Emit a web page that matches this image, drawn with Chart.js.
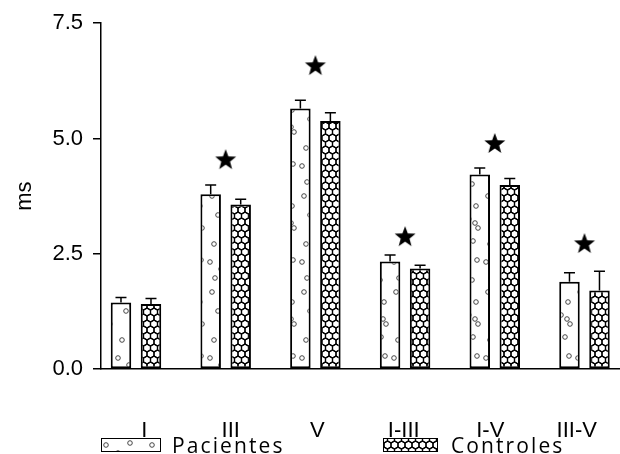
<!DOCTYPE html>
<html>
<head>
<meta charset="utf-8">
<script src="https://cdn.jsdelivr.net/npm/chart.js@4"></script>
<style>
  body { margin: 0; background: #fff; }
  #wrap { position: relative; width: 620px; height: 454px; }
  .lg { position: absolute; top: 431px; font: 21px "Open Sans", sans-serif; letter-spacing: 2.1px; color: #000; }
  .sw { position: absolute; top: 438px; height: 12px; border: 1px solid #000; background-color: #fff; }
</style>
</head>
<body>
<div id="wrap">
  <canvas id="c" width="620" height="454"></canvas>
  <div class="sw" id="sw1" style="left:101px;width:58px"></div>
  <div class="lg" style="left:172px">Pacientes</div>
  <div class="sw" id="sw2" style="left:383px;width:53px"></div>
  <div class="lg" style="left:451px">Controles</div>
</div>
<script>
const categories = ['I', 'III', 'V', 'I-III', 'I-V', 'III-V'];
const pacientes = [1.44, 3.79, 5.65, 2.33, 4.22, 1.89];
const pacientesErr = [0.11, 0.20, 0.18, 0.14, 0.14, 0.20];
const controles = [1.41, 3.57, 5.38, 2.18, 3.99, 1.70];
const controlesErr = [0.12, 0.11, 0.18, 0.07, 0.14, 0.42];
const stars = [null, 4.53, 6.57, 2.86, 4.88, 2.71];
const yTicks = [0, 2.5, 5, 7.5];

// scattered circles tile
function dotsTile() {
    const c = document.createElement('canvas');
    c.width = 46; c.height = 96;
    const g = c.getContext('2d');
    g.fillStyle = '#fff'; g.fillRect(0, 0, 46, 96);
    g.strokeStyle = '#333'; g.lineWidth = 0.9;
    [[4,6],[16,14],[9,27],[18,36],[5,42],[13,49],[6,63],[17,68],[15,31],[3,80],[12,88],
     [28,4],[40,18],[34,23],[44,40],[30,52],[41,58],[26,70],[37,77],[43,91],[31,86]].forEach(p => {
        g.beginPath(); g.arc(p[0], p[1], 2.3, 0, Math.PI * 2); g.stroke();
    });
    return c;
}

// honeycomb tile
function hexTile() {
    const c = document.createElement('canvas');
    c.width = 7; c.height = 12;
    const g = c.getContext('2d');
    g.fillStyle = '#fff'; g.fillRect(0, 0, 7, 12);
    g.strokeStyle = '#000'; g.lineWidth = 1.2;
    const r = 4.04;
    for (let j = -1; j <= 3; j++) {
        for (let i = -1; i <= 2; i++) {
            const cx = i * 7 + (j % 2 ? 3.5 : 0), cy = j * 6;
            g.beginPath();
            for (let k = 0; k < 6; k++) {
                const a = Math.PI / 6 + k * Math.PI / 3;
                const x = cx + r * Math.cos(a), y = cy + r * Math.sin(a);
                k ? g.lineTo(x, y) : g.moveTo(x, y);
            }
            g.closePath(); g.stroke();
        }
    }
    return c;
}

function starImg(r) {
    const c = document.createElement('canvas');
    c.width = c.height = 2 * r + 2;
    const g = c.getContext('2d');
    g.fillStyle = '#000';
    g.beginPath();
    for (let k = 0; k < 10; k++) {
        const rr = k % 2 ? r * 0.42 : r;
        const a = -Math.PI / 2 + k * Math.PI / 5;
        const x = r + 1 + rr * Math.cos(a), y = r + 1 + rr * Math.sin(a);
        k ? g.lineTo(x, y) : g.moveTo(x, y);
    }
    g.closePath(); g.fill();
    return c;
}

const dt = dotsTile(), ht = hexTile();
const ctx = document.getElementById('c').getContext('2d');
const dotsPat = ctx.createPattern(dt, 'repeat');
const hexPat = ctx.createPattern(ht, 'repeat');
document.getElementById('sw1').style.backgroundImage = 'url(' + dt.toDataURL() + ')';
document.getElementById('sw2').style.backgroundImage = 'url(' + ht.toDataURL() + ')';

const errs = [pacientesErr, controlesErr];
const errorBars = {
    id: 'errorBars',
    afterDatasetsDraw(chart) {
        const g = chart.ctx, y = chart.scales.y;
        g.save();
        g.strokeStyle = '#000';
        g.lineWidth = 1.5;
        [0, 1].forEach(d => {
            const ds = chart.data.datasets[d];
            chart.getDatasetMeta(d).data.forEach((bar, i) => {
                const top = y.getPixelForValue(ds.data[i].y + errs[d][i]);
                g.beginPath();
                g.moveTo(bar.x, bar.y); g.lineTo(bar.x, top);
                g.moveTo(bar.x - 5.5, top); g.lineTo(bar.x + 5.5, top);
                g.stroke();
            });
        });
        g.restore();
    }
};

const xy = arr => arr.map((v, i) => ({ x: i, y: v }));
const axisFont = { family: 'Liberation Sans', size: 22 };

new Chart(ctx, {
    type: 'bar',
    data: {
        datasets: [
            { label: 'Pacientes', xAxisID: 'x', data: xy(pacientes), backgroundColor: dotsPat, borderColor: '#000', borderWidth: 2, borderSkipped: false, categoryPercentage: 0.669, barPercentage: 0.683 },
            { label: 'Controles', xAxisID: 'x', data: xy(controles), backgroundColor: hexPat, borderColor: '#000', borderWidth: 2, borderSkipped: false, categoryPercentage: 0.669, barPercentage: 0.683 },
            { type: 'line', label: 'sig', xAxisID: 'x', data: xy(stars), showLine: false, pointStyle: starImg(11), pointRadius: 11 }
        ]
    },
    options: {
        responsive: false,
        animation: false,
        layout: { autoPadding: false, padding: { top: 23, right: 0, bottom: 0, left: 0 } },
        plugins: { legend: { display: false }, tooltip: { enabled: false } },
        scales: {
            x: { type: 'linear', display: false, offset: false, min: -0.39, max: 5.396 },
            xl: {
                type: 'category', position: 'bottom', labels: categories, offset: true,
                grid: { display: true, drawOnChartArea: false, drawTicks: true, tickLength: 45, tickColor: 'rgba(0,0,0,0)' },
                border: { display: true, color: '#000', width: 1.5 },
                ticks: { color: '#000', font: axisFont, padding: 4 },
                afterFit: s => { s.height = 85; s.paddingLeft = 0; s.paddingRight = 0; }
            },
            y: {
                min: 0, max: 7.5,
                afterBuildTicks: s => { s.ticks = yTicks.map(v => ({ value: v })); },
                grid: { drawOnChartArea: false, tickLength: 8, color: '#000', lineWidth: 1.5 },
                border: { color: '#000', width: 1.5 },
                ticks: { color: '#000', font: axisFont, padding: 10, callback: v => v.toFixed(1) },
                title: { display: true, text: 'ms', color: '#000', font: axisFont, padding: { top: 12 } },
                afterFit: s => { s.width = 101; }
            }
        }
    },
    plugins: [errorBars]
});
</script>
</body>
</html>
